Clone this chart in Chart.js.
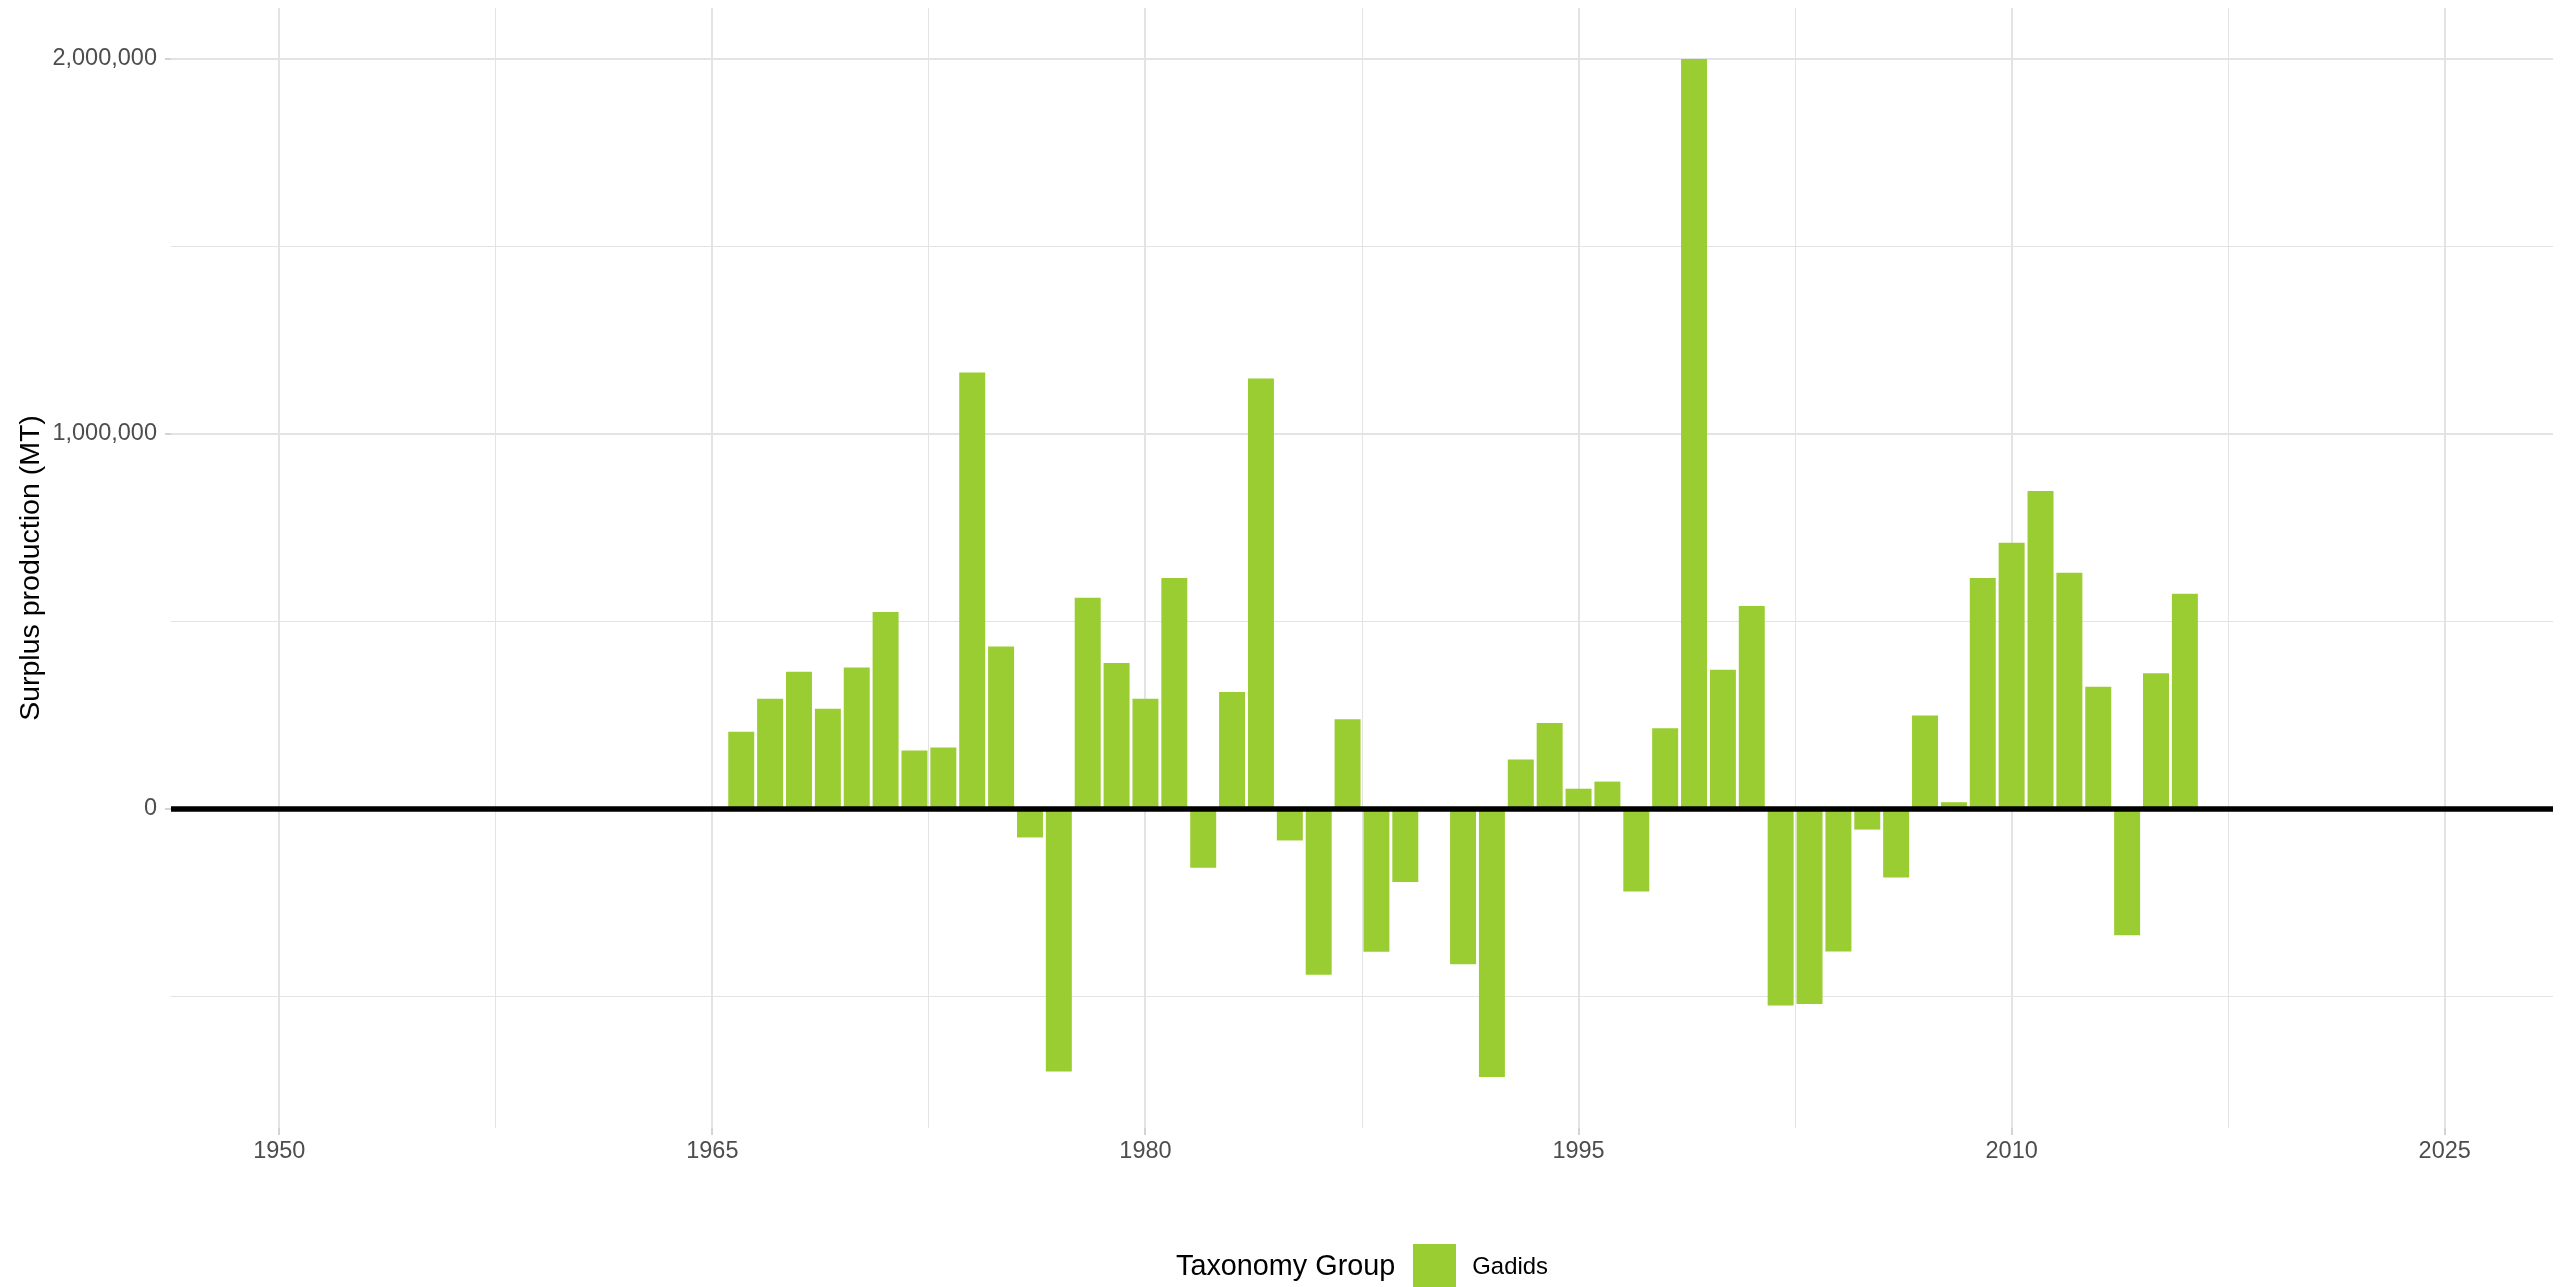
<!DOCTYPE html>
<html>
<head>
<meta charset="utf-8">
<title>Surplus production</title>
<script src="https://cdn.jsdelivr.net/npm/chart.js@4.4.1/dist/chart.umd.min.js"></script>
<style>
  html, body { margin: 0; padding: 0; background: #ffffff; }
  .wrap { position: relative; width: 2569px; height: 1287px; overflow: hidden; }
  .legend {
    position: absolute; left: 1176px; top: 1244px; height: 43px;
    display: flex; align-items: center;
    font-family: "Liberation Sans", Arial, sans-serif; color: #000;
  }
  .legend .title { font-size: 28.8px; margin-right: 18px; }
  .legend .key { width: 43px; height: 43px; background: #9acd32; margin-right: 16px; }
  .legend .item { font-size: 23.9px; }
</style>
</head>
<body>
<div class="wrap">
  <canvas id="chart" width="2569" height="1287"></canvas>
  <div class="legend">
    <span class="title">Taxonomy Group</span>
    <span class="key"></span>
    <span class="item">Gadids</span>
  </div>
</div>
<script>
// data
const years = [1966, 1967, 1968, 1969, 1970, 1971, 1972, 1973, 1974, 1975,
  1976, 1977, 1978, 1979, 1980, 1981, 1982, 1983, 1984, 1985,
  1986, 1987, 1988, 1989, 1990, 1991, 1992, 1993, 1994, 1995,
  1996, 1997, 1998, 1999, 2000, 2001, 2002, 2003, 2004, 2005,
  2006, 2007, 2008, 2009, 2010, 2011, 2012, 2013, 2014, 2015, 2016];

const surplus = [206000, 294000, 366000, 267000, 377000, 525000, 156000, 164000, 1164000, 433000,
  -76000, -700000, 563000, 389000, 294000, 616000, -157000, 312000, 1148000, -84000,
  -442000, 239000, -381000, -195000, null, -414000, -715000, 132000, 229000, 54000,
  73000, -220000, 215000, 2000000, 371000, 541000, -524000, -520000, -380000, -55000,
  -183000, 249000, 18000, 616000, 710000, 848000, 630000, 326000, -337000, 362000, 574000];

// grid positions (major + minor) and the ones that carry labels
const xTicks = [1950, 1957.5, 1965, 1972.5, 1980, 1987.5, 1995, 2002.5, 2010, 2017.5, 2025];
const xLabelTicks = [1950, 1965, 1980, 1995, 2010, 2025];
const yTicks = [-500000, 0, 500000, 1000000, 1500000, 2000000];
const yLabelTicks = [0, 1000000, 2000000];

const seriesName = "Gadids";
const barColor = "#9acd32";
const gridColor = "#e3e3e3";
const tickColor = "#a8a8a8";
const fontFamily = "'Liberation Sans', Arial, sans-serif";

const isMajor = (list) => (c) => !!(c.tick && list.includes(c.tick.value));

// horizontal reference line at zero, drawn on top of the bars
const zeroLine = {
  id: "zeroLine",
  afterDatasetsDraw(chart) {
    const { ctx, chartArea, scales } = chart;
    const y = scales.y.getPixelForValue(0);
    ctx.save();
    ctx.strokeStyle = "#000000";
    ctx.lineWidth = 5.5;
    ctx.beginPath();
    ctx.moveTo(chartArea.left, y);
    ctx.lineTo(chartArea.right, y);
    ctx.stroke();
    ctx.restore();
  },
};

const majorX = isMajor(xLabelTicks);
const majorY = isMajor(yLabelTicks);

const ctx = document.getElementById("chart").getContext("2d");

new Chart(ctx, {
  type: "bar",
  data: {
    datasets: [
      {
        label: seriesName,
        data: years.map((yr, i) => ({ x: yr, y: surplus[i] })),
        backgroundColor: barColor,
        borderWidth: 0,
        categoryPercentage: 1,
        barPercentage: 0.9,
      },
    ],
  },
  options: {
    responsive: false,
    animation: false,
    layout: {
      padding: { top: 8, right: 16, bottom: 119, left: 0 },
    },
    plugins: {
      legend: { display: false },
      tooltip: { enabled: false },
    },
    scales: {
      x: {
        type: "linear",
        min: 1946.25,
        max: 2028.75,
        offset: false,
        border: { display: false },
        afterBuildTicks: (scale) => {
          scale.ticks = xTicks.map((v) => ({ value: v }));
        },
        afterFit: (scale) => {
          scale.height = 40;
          scale.paddingLeft = 0;
          scale.paddingRight = 0;
        },
        grid: {
          offset: false,
          color: gridColor,
          lineWidth: (c) => (majorX(c) ? 2 : 1),
          tickLength: 7,
          tickWidth: 1,
          tickColor: (c) => (majorX(c) ? tickColor : "rgba(0,0,0,0)"),
        },
        ticks: {
          autoSkip: false,
          maxRotation: 0,
          padding: 2,
          color: "#4d4d4d",
          font: { family: fontFamily, size: 23.5 },
          callback: (v) => (xLabelTicks.includes(v) ? String(v) : ""),
        },
      },
      y: {
        min: -850750,
        max: 2135750,
        border: { display: false },
        afterBuildTicks: (scale) => {
          scale.ticks = yTicks.map((v) => ({ value: v }));
        },
        afterFit: (scale) => {
          scale.width = 171;
          scale.paddingTop = 0;
          scale.paddingBottom = 0;
        },
        grid: {
          color: gridColor,
          lineWidth: (c) => (majorY(c) ? 2 : 1),
          tickLength: 6,
          tickWidth: 1,
          tickColor: (c) => (majorY(c) ? tickColor : "rgba(0,0,0,0)"),
        },
        ticks: {
          padding: 8,
          color: "#4d4d4d",
          font: { family: fontFamily, size: 23.5 },
          callback: (v) => (yLabelTicks.includes(v) ? v.toLocaleString("en-US") : ""),
        },
        title: {
          display: true,
          text: "Surplus production (MT)",
          color: "#000000",
          font: { family: fontFamily, size: 28.5 },
          padding: { top: 14, bottom: 0 },
        },
      },
    },
  },
  plugins: [zeroLine],
});
</script>
</body>
</html>
